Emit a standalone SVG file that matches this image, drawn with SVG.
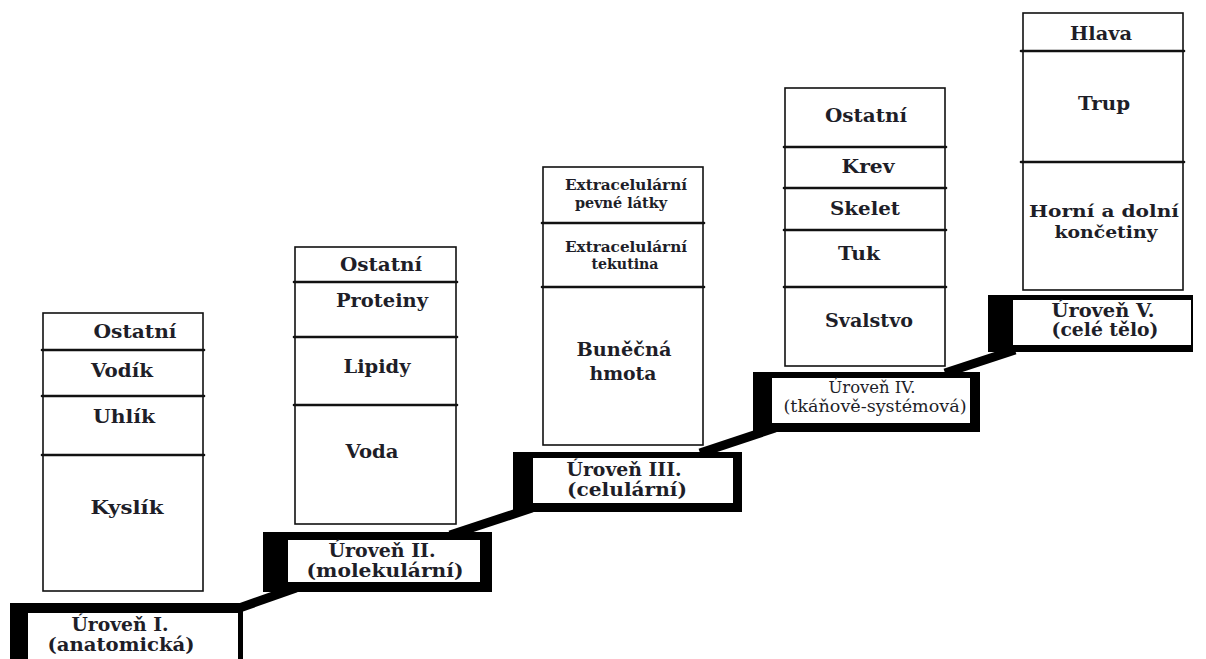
<svg xmlns="http://www.w3.org/2000/svg" width="1206" height="659" viewBox="0 0 1206 659">
<style>
.bg{fill:#ffffff}
.stack{fill:#ffffff;stroke:#111;stroke-width:1.6}
.div{stroke:#111;stroke-width:2.6;stroke-linecap:round}
.lbl{font-family:"DejaVu Serif","Liberation Serif",serif;font-weight:bold;font-size:19px;fill:#1e1e28;text-anchor:middle}
.sm{font-size:14.5px}
.md{font-size:17px}
.lv{font-family:"DejaVu Serif","Liberation Serif",serif;font-weight:bold;font-size:18px;fill:#1e1e28;text-anchor:middle}
.lvr{font-weight:normal;font-size:16px}
.blk{fill:#000}
.wht{fill:#fff}
.conn{stroke:#000;stroke-width:9;stroke-linecap:butt}
</style>
<rect class="bg" x="0" y="0" width="1206" height="659"/>
<g id="connectors">
<line class="conn" x1="228" y1="612" x2="296" y2="588"/>
<line class="conn" x1="450" y1="535" x2="532" y2="508"/>
<line class="conn" x1="700" y1="453" x2="775" y2="428"/>
<line class="conn" x1="945" y1="373" x2="1015" y2="350"/>
</g>
<g id="level1">
<rect class="blk" x="10" y="603" width="233" height="60"/>
<rect class="wht" x="28" y="613" width="210" height="50"/>
<text class="lv" x="120" y="631" textLength="97" lengthAdjust="spacingAndGlyphs">Úroveň I.</text>
<text class="lv" x="121" y="651" textLength="147" lengthAdjust="spacingAndGlyphs">(anatomická)</text>
</g>
<g id="level2">
<rect class="blk" x="263" y="532" width="229" height="60"/>
<rect class="wht" x="288" y="540" width="192" height="42"/>
<text class="lv" x="382" y="557" textLength="107" lengthAdjust="spacingAndGlyphs">Úroveň II.</text>
<text class="lv" x="385" y="577" textLength="157" lengthAdjust="spacingAndGlyphs">(molekulární)</text>
</g>
<g id="level3">
<rect class="blk" x="513" y="452" width="229" height="60"/>
<rect class="wht" x="533" y="458" width="200" height="45"/>
<text class="lv" x="624" y="476" textLength="115" lengthAdjust="spacingAndGlyphs">Úroveň III.</text>
<text class="lv" x="627" y="496" textLength="120" lengthAdjust="spacingAndGlyphs">(celulární)</text>
</g>
<g id="level4">
<rect class="blk" x="753" y="372" width="227" height="60"/>
<rect class="wht" x="772" y="378" width="198" height="45"/>
<text class="lv lvr" x="872" y="393" textLength="87" lengthAdjust="spacingAndGlyphs">Úroveň IV.</text>
<text class="lv lvr" x="875" y="412" textLength="183" lengthAdjust="spacingAndGlyphs">(tkáňově-systémová)</text>
</g>
<g id="level5">
<rect class="blk" x="988" y="295" width="205" height="57"/>
<rect class="wht" x="1013" y="300" width="178" height="45"/>
<text class="lv" x="1103" y="317" textLength="103" lengthAdjust="spacingAndGlyphs">Úroveň V.</text>
<text class="lv" x="1105" y="336" textLength="107" lengthAdjust="spacingAndGlyphs">(celé tělo)</text>
</g>
<g id="stack1">
<rect class="stack" x="43" y="313" width="160" height="278"/>
<line class="div" x1="42" y1="350" x2="204" y2="350"/>
<line class="div" x1="42" y1="396" x2="204" y2="396"/>
<line class="div" x1="42" y1="455" x2="204" y2="455"/>
<text class="lbl" x="135" y="338" textLength="83" lengthAdjust="spacingAndGlyphs">Ostatní</text>
<text class="lbl" x="122" y="377" textLength="62" lengthAdjust="spacingAndGlyphs">Vodík</text>
<text class="lbl" x="124" y="423" textLength="62" lengthAdjust="spacingAndGlyphs">Uhlík</text>
<text class="lbl" x="127" y="514" textLength="73" lengthAdjust="spacingAndGlyphs">Kyslík</text>
</g>
<g id="stack2">
<rect class="stack" x="295" y="247" width="161" height="277"/>
<line class="div" x1="294" y1="282" x2="457" y2="282"/>
<line class="div" x1="294" y1="337" x2="457" y2="337"/>
<line class="div" x1="294" y1="405" x2="457" y2="405"/>
<text class="lbl" x="381" y="271" textLength="82" lengthAdjust="spacingAndGlyphs">Ostatní</text>
<text class="lbl" x="382" y="307" textLength="92" lengthAdjust="spacingAndGlyphs">Proteiny</text>
<text class="lbl" x="377" y="373" textLength="67" lengthAdjust="spacingAndGlyphs">Lipidy</text>
<text class="lbl" x="372" y="458" textLength="53" lengthAdjust="spacingAndGlyphs">Voda</text>
</g>
<g id="stack3">
<rect class="stack" x="543" y="167" width="160" height="278"/>
<line class="div" x1="542" y1="223" x2="704" y2="223"/>
<line class="div" x1="542" y1="287" x2="704" y2="287"/>
<text class="lbl sm" x="626" y="190" textLength="122" lengthAdjust="spacingAndGlyphs">Extracelulární</text>
<text class="lbl sm" x="621" y="208" textLength="92" lengthAdjust="spacingAndGlyphs">pevné látky</text>
<text class="lbl sm" x="626" y="252" textLength="122" lengthAdjust="spacingAndGlyphs">Extracelulární</text>
<text class="lbl sm" x="625" y="269" textLength="67" lengthAdjust="spacingAndGlyphs">tekutina</text>
<text class="lbl" x="624" y="356" textLength="95" lengthAdjust="spacingAndGlyphs">Buněčná</text>
<text class="lbl" x="623" y="380" textLength="67" lengthAdjust="spacingAndGlyphs">hmota</text>
</g>
<g id="stack4">
<rect class="stack" x="785" y="88" width="160" height="278"/>
<line class="div" x1="784" y1="147" x2="946" y2="147"/>
<line class="div" x1="784" y1="188" x2="946" y2="188"/>
<line class="div" x1="784" y1="230" x2="946" y2="230"/>
<line class="div" x1="784" y1="287" x2="946" y2="287"/>
<text class="lbl" x="866" y="122" textLength="82" lengthAdjust="spacingAndGlyphs">Ostatní</text>
<text class="lbl" x="868" y="173" textLength="53" lengthAdjust="spacingAndGlyphs">Krev</text>
<text class="lbl" x="865" y="215" textLength="70" lengthAdjust="spacingAndGlyphs">Skelet</text>
<text class="lbl" x="859" y="260" textLength="42" lengthAdjust="spacingAndGlyphs">Tuk</text>
<text class="lbl" x="869" y="327" textLength="88" lengthAdjust="spacingAndGlyphs">Svalstvo</text>
</g>
<g id="stack5">
<rect class="stack" x="1023" y="13" width="160" height="277"/>
<line class="div" x1="1021" y1="51" x2="1184" y2="51"/>
<line class="div" x1="1021" y1="162" x2="1184" y2="162"/>
<text class="lbl" x="1101" y="40" textLength="62" lengthAdjust="spacingAndGlyphs">Hlava</text>
<text class="lbl" x="1104" y="110" textLength="52" lengthAdjust="spacingAndGlyphs">Trup</text>
<text class="lbl md" x="1104" y="217" textLength="150" lengthAdjust="spacingAndGlyphs">Horní a dolní</text>
<text class="lbl md" x="1106" y="238" textLength="103" lengthAdjust="spacingAndGlyphs">končetiny</text>
</g>
</svg>
